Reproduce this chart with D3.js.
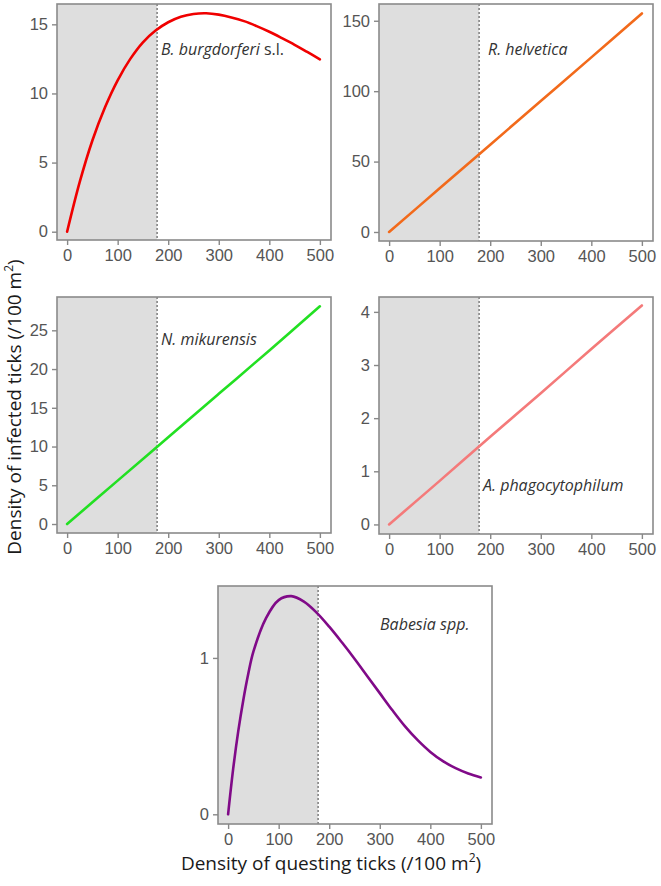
<!DOCTYPE html>
<html>
<head>
<meta charset="utf-8">
<script src="https://cdn.jsdelivr.net/npm/d3@7"></script>
<style>
  body { margin: 0; background: #fff; }
  svg { display: block; font-family: "Open Sans", sans-serif; }
  .tick text { fill: #555; font-size: 16.5px; }
  .tick line { stroke: #888; }
  .domain { display: none; }
</style>
</head>
<body>
<svg id="chart" width="661" height="886"></svg>
<script>
/* ---------- data ---------- */

const xTicks = [0, 100, 200, 300, 400, 500];
const threshold = 178;

// B. burgdorferi s.l.
const bbX = [0, 25, 50, 75, 100, 125, 150, 175, 200, 225, 250, 275, 300, 325, 350, 375, 400, 425, 450, 475, 500];
const bbY = [0, 3.6, 6.6, 9.0, 10.95, 12.5, 13.7, 14.55, 15.15, 15.55, 15.75, 15.8, 15.7, 15.5, 15.23, 14.87, 14.46, 14.0, 13.52, 13.0, 12.47];

// R. helvetica, N. mikurensis, A. phagocytophilum
const linX = [0, 100, 200, 300, 400, 500];
const rhY = [0, 31, 62, 93, 124, 155.2];
const nmY = [0, 5.6, 11.2, 16.8, 22.4, 28.1];
const apY = [0, 0.82, 1.65, 2.47, 3.3, 4.12];

// Babesia spp.
const baX = [0, 10, 20, 30, 40, 50, 75, 100, 125, 150, 175, 200, 225, 250, 275, 300, 325, 350, 375, 400, 425, 450, 475, 500];
const baY = [0, 0.29, 0.53, 0.73, 0.9, 1.04, 1.255, 1.37, 1.395, 1.36, 1.29, 1.2, 1.1, 0.995, 0.885, 0.775, 0.665, 0.562, 0.474, 0.399, 0.34, 0.295, 0.261, 0.236];

/* ---------- panels ---------- */

const panels = [
  { left: 57, top: 4, w: 274, h: 236, xs: bbX, ys: bbY, color: "#f00000",
    yDomain: [-0.6, 16.47], yTicks: [0, 5, 10, 15],
    label: [["B. burgdorferi", true], [" s.l.", false]], lx: 104, ly: 51 },
  { left: 379, top: 4, w: 274, h: 237, xs: linX, ys: rhY, color: "#f26a1b",
    yDomain: [-6.4, 161.9], yTicks: [0, 50, 100, 150],
    label: [["R. helvetica", true]], lx: 109, ly: 51 },
  { left: 57, top: 297, w: 274, h: 236, xs: linX, ys: nmY, color: "#22e022",
    yDomain: [-1.16, 29.3], yTicks: [0, 5, 10, 15, 20, 25],
    label: [["N. mikurensis", true]], lx: 104, ly: 48 },
  { left: 379, top: 297, w: 274, h: 237, xs: linX, ys: apY, color: "#f47a7a",
    yDomain: [-0.18, 4.28], yTicks: [0, 1, 2, 3, 4],
    label: [["A. phagocytophilum", true]], lx: 104, ly: 194 },
  { left: 218, top: 586, w: 274, h: 238, xs: baX, ys: baY, color: "#800a88",
    yDomain: [-0.062, 1.46], yTicks: [0, 1],
    label: [["Babesia spp.", true]], lx: 162, ly: 44 }
];

const svg = d3.select("#chart");

function drawPanel(p) {
  const g = svg.append("g").attr("transform", `translate(${p.left},${p.top})`);

  const x = d3.scaleLinear().domain([-20, 522]).range([0, p.w]);
  const y = d3.scaleLinear().domain(p.yDomain).range([p.h, 0]);

  // grey zone up to the threshold
  g.append("rect")
    .attr("x", 0).attr("y", 0)
    .attr("width", x(threshold)).attr("height", p.h)
    .attr("fill", "#dedede");

  g.append("line")
    .attr("x1", x(threshold)).attr("x2", x(threshold))
    .attr("y1", 0).attr("y2", p.h)
    .attr("stroke", "#444").attr("stroke-width", 1)
    .attr("stroke-dasharray", "2,2");

  const line = d3.line()
    .x((d, i) => x(p.xs[i]))
    .y(d => y(d))
    .curve(d3.curveCatmullRom.alpha(0.5));

  g.append("path")
    .datum(p.ys)
    .attr("d", line)
    .attr("fill", "none")
    .attr("stroke", p.color)
    .attr("stroke-width", 2.6)
    .attr("stroke-linecap", "round");

  // frame
  g.append("rect")
    .attr("width", p.w).attr("height", p.h)
    .attr("fill", "none")
    .attr("stroke", "#8a8a8a").attr("stroke-width", 1.6);

  g.append("g")
    .attr("transform", `translate(0,${p.h})`)
    .call(d3.axisBottom(x).tickValues(xTicks).tickFormat(d3.format("d")).tickSize(5).tickPadding(4));

  g.append("g")
    .call(d3.axisLeft(y).tickValues(p.yTicks).tickFormat(d3.format("d")).tickSize(5).tickPadding(4));

  g.selectAll(".tick line").attr("stroke-width", 1.4);

  const t = g.append("text")
    .attr("x", p.lx).attr("y", p.ly)
    .attr("fill", "#333")
    .style("font-size", "16px");
  p.label.forEach(([s, it]) => {
    t.append("tspan").text(s).style("font-style", it ? "italic" : "normal");
  });
}

panels.forEach(drawPanel);

/* ---------- axis titles ---------- */

const xt = svg.append("text")
  .attr("x", 331).attr("y", 870)
  .attr("text-anchor", "middle")
  .attr("fill", "#1a1a1a")
  .style("font-size", "19px");
xt.append("tspan").text("Density of questing ticks (/100 m");
xt.append("tspan").text("2").attr("baseline-shift", "super").style("font-size", "12px");
xt.append("tspan").text(")");

const yt = svg.append("text")
  .attr("transform", "translate(21,407) rotate(-90)")
  .attr("text-anchor", "middle")
  .attr("fill", "#1a1a1a")
  .style("font-size", "19px");
yt.append("tspan").text("Density of infected ticks (/100 m");
yt.append("tspan").text("2").attr("baseline-shift", "super").style("font-size", "12px");
yt.append("tspan").text(")");
</script>
</body>
</html>
